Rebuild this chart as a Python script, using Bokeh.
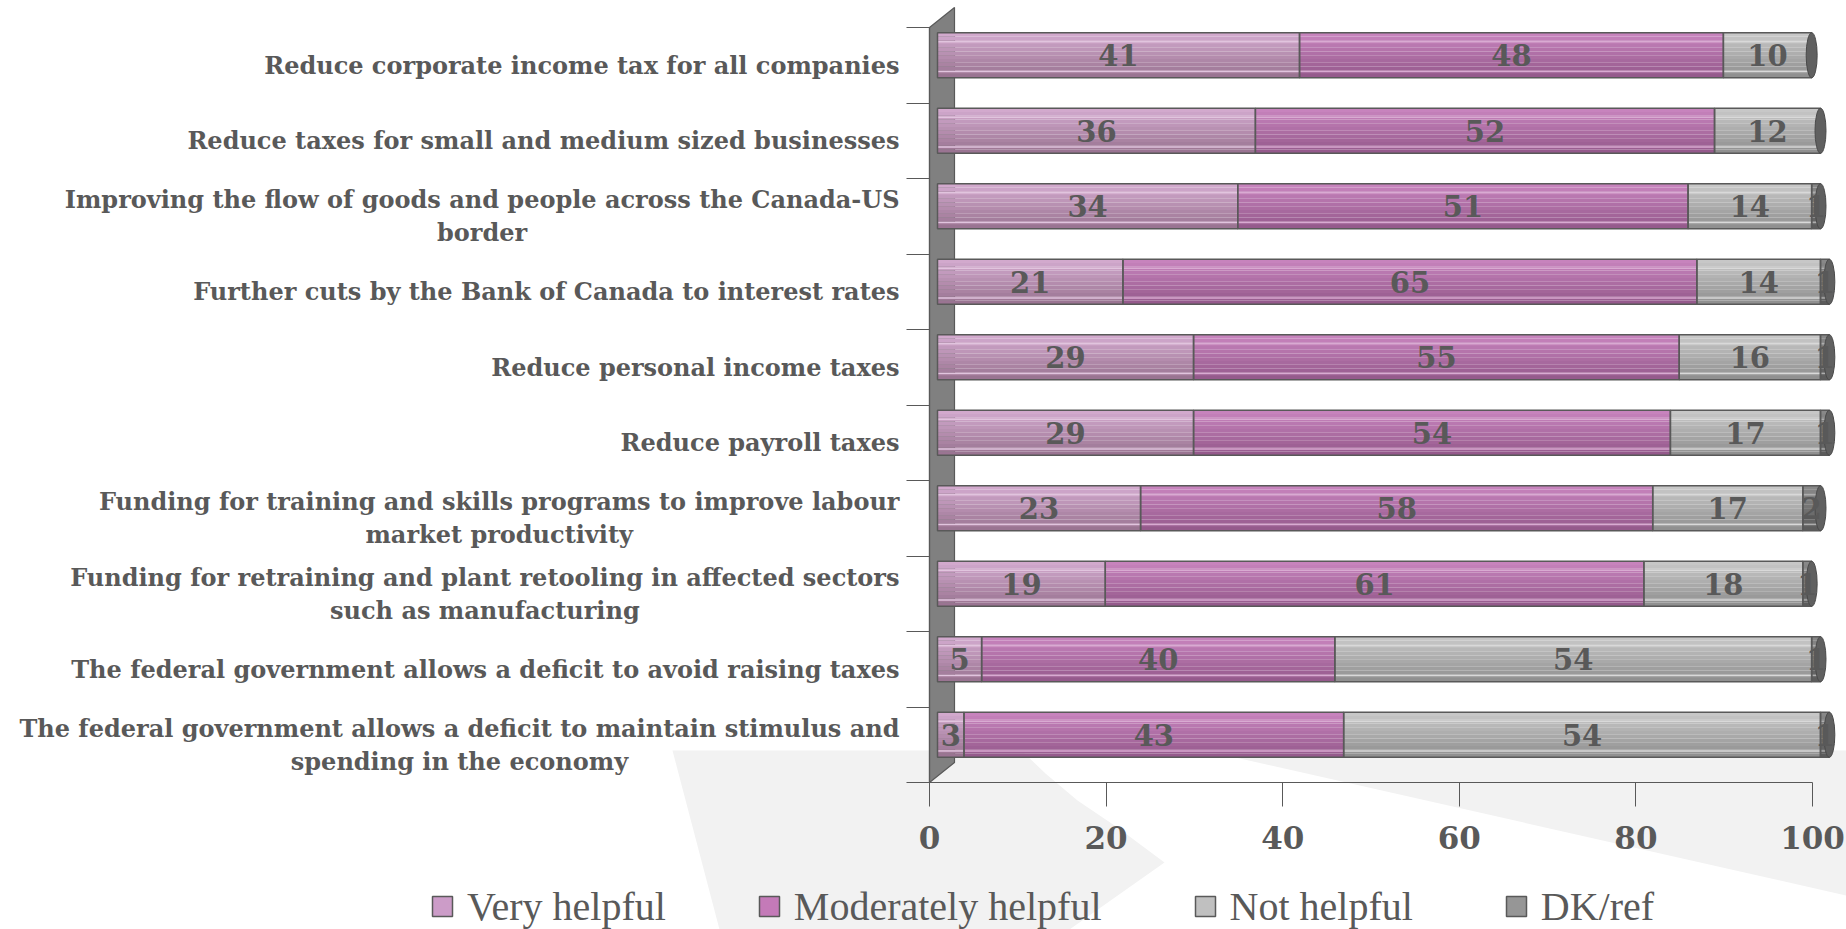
from bokeh.plotting import figure
from bokeh.models import (Range1d, LinearAxis, FixedTicker, ColumnDataSource,
                          LegendItem, Legend)
from bokeh.core.properties import value
from bokeh.embed import file_html
from bokeh.resources import INLINE

# ---------------- data ----------------
categories = [
    "Reduce corporate income tax for all companies",
    "Reduce taxes for small and medium sized businesses",
    "Improving the flow of goods and people across the Canada-US\nborder",
    "Further cuts by the Bank of Canada to interest rates",
    "Reduce personal income taxes",
    "Reduce payroll taxes",
    "Funding for training and skills programs to improve labour\nmarket productivity",
    "Funding for retraining and plant retooling in affected sectors\nsuch as manufacturing",
    "The federal government allows a deficit to avoid raising taxes",
    "The federal government allows a deficit to maintain stimulus and\nspending in the economy",
]
very_helpful = [41, 36, 34, 21, 29, 29, 23, 19, 5, 3]
moderately_helpful = [48, 52, 51, 65, 55, 54, 58, 61, 40, 43]
not_helpful = [10, 12, 14, 14, 16, 17, 17, 18, 54, 54]
dk_ref = [0, 0, 1, 1, 1, 1, 2, 1, 1, 1]
series_names = ["Very helpful", "Moderately helpful", "Not helpful", "DK/ref"]
x_ticks = [0, 20, 40, 60, 80, 100]

# ---------------- styles ----------------
TEXT = "#595959"
LINE = "#595959"
legend_colors = ["#CC9CC8", "#C47AB8", "#C0C0C0", "#969696"]
grad_top = ["#D4ABD0", "#C985BF", "#C9C9C9", "#8A8A8A"]
grad_bot = ["#98728F", "#93588A", "#8E8E8E", "#5A5A5A"]


def mix(c1, c2, t):
    a = [int(c1[i:i + 2], 16) for i in (1, 3, 5)]
    b = [int(c2[i:i + 2], 16) for i in (1, 3, 5)]
    return "#%02x%02x%02x" % tuple(round(a[i] + (b[i] - a[i]) * t) for i in range(3))


# ---------------- geometry (page px) ----------------
W, H = 1846, 929
AXIS_X, AXIS_Y, TOP = 929, 782, 7   # value 0 / category baseline / wall top
UNIT = 8.83       # px per percentage point
BAND = 75.5       # px per category band
BAR_DX, BAR_DY = 8, 10   # 3-D depth shift of the bars
BAR_H = 45 / BAND
LABEL_RIGHT = 899
n = len(categories)

x_start, x_end = -AXIS_X / UNIT, (W - AXIS_X) / UNIT
y_start, y_end = -(H - AXIS_Y) / BAND, AXIS_Y / BAND

p = figure(width=W, height=H, output_backend="svg", toolbar_location=None,
           x_range=Range1d(x_start, x_end), y_range=Range1d(y_start, y_end),
           x_axis_type=None, y_axis_type=None,
           min_border_left=0, min_border_right=0, min_border_top=0, min_border_bottom=0)
p.outline_line_color = None
p.background_fill_color = "white"
p.border_fill_color = "white"
p.extra_x_ranges = {"bars": Range1d(x_start - BAR_DX / UNIT, x_end - BAR_DX / UNIT),
                    "px": Range1d(0, W)}
p.extra_y_ranges = {"px": Range1d(H, 0)}

# faint background swoosh (decoration)
p.patch(x=[672, 1021, 1045, 1077, 1117, 1164, 1069, 719],
        y=[750, 750, 773, 800, 827, 862, 929, 929],
        x_range_name="px", y_range_name="px", fill_color="#F2F2F2", line_color=None)
p.patch(x=[1204, 1846, 1846], y=[750, 750, 895],
        x_range_name="px", y_range_name="px", fill_color="#F2F2F2", line_color=None)

# 3-D back wall
p.patch(x=[AXIS_X, AXIS_X + 25, AXIS_X + 25, AXIS_X],
        y=[AXIS_Y, AXIS_Y - 20, TOP, TOP + 20],
        x_range_name="px", y_range_name="px",
        fill_color="#808080", line_color=LINE, line_width=1.2)

# ---------------- bars ----------------
series = [very_helpful, moderately_helpful, not_helpful, dk_ref]
rows = {"left": [], "right": [], "y": [], "s": [], "val": [], "mid": []}
for k in range(n):
    yc = n - 0.5 - k + BAR_DY / BAND
    acc = 0
    for s, vals in enumerate(series):
        v = vals[k]
        rows["left"].append(acc)
        rows["right"].append(acc + v)
        rows["y"].append(yc)
        rows["s"].append(s)
        rows["val"].append(v)
        rows["mid"].append(acc + v / 2)
        acc += v

NSTRIP = 12
for j in range(NSTRIP):
    t = (j + 0.5) / NSTRIP
    cols = [mix(grad_top[s], grad_bot[s], t) for s in rows["s"]]
    src = ColumnDataSource(dict(left=rows["left"], right=rows["right"],
                                y=[y + BAR_H / 2 - t * BAR_H for y in rows["y"]],
                                color=cols))
    p.hbar(y="y", left="left", right="right", height=BAR_H / NSTRIP * 1.06, source=src,
           fill_color="color", line_color=None, x_range_name="bars")

# highlight lines
for frac in (0.2, 0.86):
    cols = [mix(grad_top[s], "#FFFFFF", 0.3) for s in rows["s"]]
    src = ColumnDataSource(dict(left=rows["left"], right=rows["right"],
                                y=[y + BAR_H / 2 - frac * BAR_H for y in rows["y"]],
                                color=cols))
    p.hbar(y="y", left="left", right="right", height=1.5 / BAND, source=src,
           fill_color="color", line_color=None, x_range_name="bars")

bar_src = ColumnDataSource(rows)
p.hbar(y="y", left="left", right="right", height=BAR_H, source=bar_src,
       fill_alpha=0, line_color=LINE, line_width=1.5, x_range_name="bars")

# cylinder end caps
totals = [sum(vals[k] for vals in series) for k in range(n)]
cap_src = ColumnDataSource(dict(x=totals, y=[n - 0.5 - k + BAR_DY / BAND for k in range(n)]))
p.ellipse(x="x", y="y", width=11, width_units="screen", height=BAR_H, source=cap_src,
          fill_color="#606060", line_color="#4A4A4A", line_width=1, x_range_name="bars")

# value labels
lab = {k: [rows[k][i] for i in range(len(rows["val"])) if rows["val"][i] > 0]
       for k in ("mid", "y", "val")}
lab["txt"] = [str(v) for v in lab["val"]]
p.text(x="mid", y="y", text="txt", source=ColumnDataSource(lab), x_range_name="bars",
       text_align="center", text_baseline="middle",
       text_font=value("DejaVu Serif"), text_font_style="bold",
       text_font_size="29px", text_color=TEXT)

# category labels (right-anchored block, centred lines)
centers = [n - 0.5 - k for k in range(n)]
cat_src = ColumnDataSource(dict(x=[LABEL_RIGHT] * n, y=centers, text=categories))
p.text(x="x", y="y", text="text", source=cat_src, x_range_name="px",
       anchor="center_right", text_align="center", text_baseline="middle",
       text_font=value("DejaVu Serif"), text_font_style="bold",
       text_font_size="24px", text_color=TEXT, text_line_height=1.15)

# ---------------- axes ----------------
yax = LinearAxis(fixed_location=0,
                 ticker=FixedTicker(ticks=list(range(n + 1))), bounds=(0, n),
                 major_tick_out=23, major_tick_in=0, minor_tick_line_color=None,
                 major_label_text_font_size="0px", major_label_text_alpha=0,
                 major_label_standoff=0,
                 axis_line_color=LINE, axis_line_width=1.2,
                 major_tick_line_color=LINE, major_tick_line_width=1.2)
p.add_layout(yax, "left")

xax = LinearAxis(fixed_location=0,
                 ticker=FixedTicker(ticks=x_ticks), bounds=(0, 100),
                 major_tick_out=24, major_tick_in=0, minor_tick_line_color=None,
                 major_label_standoff=19,
                 major_label_text_font="DejaVu Serif", major_label_text_font_style="bold",
                 major_label_text_font_size="31px", major_label_text_color=TEXT,
                 axis_line_color=LINE, axis_line_width=1.2,
                 major_tick_line_color=LINE, major_tick_line_width=1)
p.add_layout(xax, "below")

# ---------------- legend ----------------
items = []
for name, col in zip(series_names, legend_colors):
    r = p.scatter(x=[float("nan")], y=[float("nan")], marker="square", size=20,
                  fill_color=col, line_color=LINE, line_width=1.5)
    items.append(LegendItem(label=name, renderers=[r]))
legend = Legend(items=items, orientation="horizontal",
                location=(417, H - 881 - 50),
                glyph_width=50, glyph_height=50, label_height=50,
                label_standoff=-3, spacing=78, padding=0, margin=0,
                border_line_color=None, background_fill_alpha=0,
                label_text_font="Liberation Serif", label_text_font_size="40px",
                label_text_color=TEXT)
p.add_layout(legend, "center")

open("out.html", "w").write(file_html(p, INLINE))
